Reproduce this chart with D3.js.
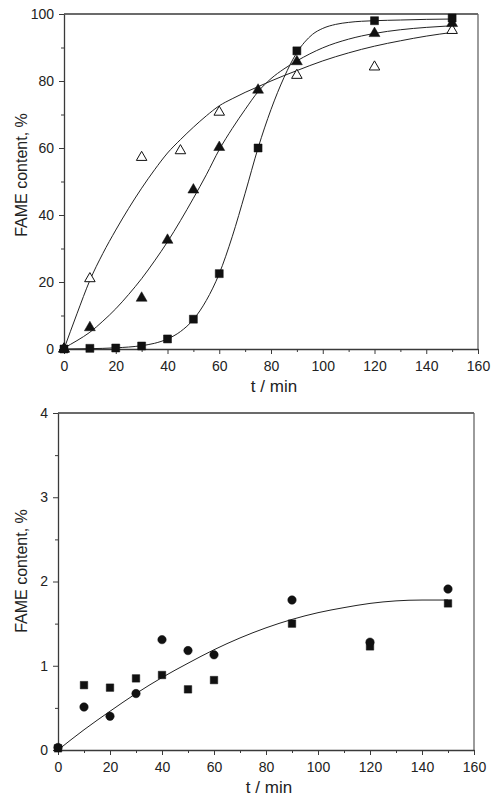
<!DOCTYPE html>
<html><head><meta charset="utf-8">
<script src="https://cdn.jsdelivr.net/npm/d3@7"></script>
<style>
body{margin:0;background:#fff}
text{font-family:"Liberation Sans",Arial,Helvetica,sans-serif;fill:#222}
</style>
</head><body>
<svg id="c" width="500" height="800"></svg>
<script>
// ---------- shared axis ticks ----------
const xMajorTicks = [0,20,40,60,80,100,120,140,160];
const xMinorTicks = [10,30,50,70,90,110,130,150];
const topYMajorTicks = [0,20,40,60,80,100];
const topYMinorTicks = [10,30,50,70,90];
const botYMajorTicks = [0,1,2,3,4];
const botYMinorTicks = [0.5,1.5,2.5,3.5];
const xLabel = "t / min";
const yLabel = "FAME content, %";

// ---------- top chart data ----------
const openTriT = [0,10,30,45,60,90,120,150];
const openTriY = [0,21,57.2,59.2,70.7,81.7,84.2,95.1];
const fillTriT = [0,10,30,40,50,60,75,90,120,150];
const fillTriY = [0,6.4,15.2,32.5,47.5,60.2,77.3,85.8,94.2,97.2];
const squareT  = [0,10,20,30,40,50,60,75,90,120,150];
const squareY  = [0,0.2,0.3,0.9,3.0,8.9,22.5,60,89,98,98.8];

// fitted curves
const openFitT = [0,5,10,15,20,25,30,35,40,45,50,55,60,65,70,75,80,85,90,95,100,110,120,130,140,150];
const openFit  = [0,10.5,20.5,28.5,35.5,42,48,53.5,58.5,62.5,66.2,69.6,72.6,74.7,76.6,78.3,80,81.6,83.1,84.6,86,88.4,90.4,92,93.4,94.5];
const fillFitT = [0,5,10,15,20,25,30,35,40,45,50,55,60,65,70,75,80,85,90,95,100,110,120,130,140,150];
const fillFit  = [0.3,2.5,5,8.3,12,16.3,21,26.3,32,38.3,45,52,59.5,65.8,71.5,76.8,80.7,83.6,86,88.1,89.9,92.5,94.2,95.3,96,96.5];
const sqFitT   = [0,10,20,30,35,40,45,50,55,60,65,70,75,80,85,90,93,96,100,105,110,120,130,140,150];
const sqFit    = [0,0.1,0.35,1.0,1.7,3.0,5.2,8.8,14.5,22.5,33.5,46.5,60,71.5,81,88.5,91.6,93.9,95.7,96.9,97.5,98,98.2,98.4,98.5];

// ---------- bottom chart data ----------
const circT = [0,10,20,30,40,50,60,90,120,150];
const circY = [0.03,0.51,0.40,0.67,1.31,1.18,1.13,1.78,1.28,1.91];
const sqT   = [0,10,20,30,40,50,60,90,120,150];
const sqY   = [0.02,0.77,0.74,0.85,0.89,0.72,0.83,1.50,1.23,1.74];
const botFitT = [0,10,20,30,40,50,60,70,80,90,100,110,120,130,140,150];
const botFit  = [0,0.24,0.46,0.67,0.86,1.03,1.19,1.33,1.45,1.55,1.63,1.69,1.74,1.77,1.78,1.78];

const svg = d3.select("#c");
const axisColor = "#3a3a3a";

function panel(cfg){
  const g = svg.append("g");
  const x = d3.scaleLinear().domain([0,160]).range([cfg.x0,cfg.x1]);
  const y = d3.scaleLinear().domain(cfg.yDomain).range([cfg.y0,cfg.y1]);

  g.append("line").attr("x1",cfg.x0).attr("x2",cfg.x1).attr("y1",cfg.y1).attr("y2",cfg.y1)
    .attr("stroke",axisColor).attr("stroke-width",1.3);
  g.append("line").attr("x1",cfg.x1).attr("x2",cfg.x1).attr("y1",cfg.y1).attr("y2",cfg.y0)
    .attr("stroke","#666").attr("stroke-width",1.3);

  g.append("g").attr("transform",`translate(0,${cfg.y0})`)
    .call(d3.axisBottom(x).tickValues(xMajorTicks).tickFormat(d3.format("d")).tickSize(5).tickPadding(7).tickSizeOuter(0));
  g.append("g").attr("transform",`translate(0,${cfg.y0})`)
    .call(d3.axisBottom(x).tickValues(xMinorTicks).tickSize(3).tickFormat("").tickSizeOuter(0))
    .select(".domain").remove();
  g.append("g").attr("transform",`translate(${cfg.x0},0)`)
    .call(d3.axisLeft(y).tickValues(cfg.yMajor).tickFormat(d3.format("d")).tickSize(5).tickPadding(5).tickSizeOuter(0));
  g.append("g").attr("transform",`translate(${cfg.x0},0)`)
    .call(d3.axisLeft(y).tickValues(cfg.yMinor).tickSize(3).tickFormat("").tickSizeOuter(0))
    .select(".domain").remove();
  g.selectAll(".domain").attr("stroke",axisColor).attr("stroke-width",1.3);
  g.selectAll(".tick line").attr("stroke",axisColor).attr("stroke-width",1);
  g.selectAll(".tick text").attr("font-size",14).attr("fill","#222")
    .style("font-family",'"Liberation Sans",Arial,sans-serif');

  g.append("text").attr("x",(cfg.x0+cfg.x1)/2+3).attr("y",cfg.y0+43)
    .attr("text-anchor","middle").attr("font-size",17).text(xLabel);
  g.append("text").attr("transform",`translate(27,${cfg.yLabelC}) rotate(-90)`)
    .attr("text-anchor","middle").attr("font-size",16).text(yLabel);

  const line = d3.line().x(d=>x(d[0])).y(d=>y(d[1])).curve(d3.curveMonotoneX);
  cfg.fits.forEach(f=>{
    g.append("path").attr("d",line(d3.zip(f.t,f.v))).attr("fill","none")
      .attr("stroke","#222").attr("stroke-width",1);
  });
  cfg.series.forEach(s=>{
    g.append("g").selectAll("path").data(d3.zip(s.t,s.v)).join("path")
      .attr("transform",d=>`translate(${x(d[0])},${y(d[1])})`)
      .attr("d",d3.symbol().type(s.type).size(s.size))
      .attr("fill",s.fill).attr("stroke","#111").attr("stroke-width",s.sw);
  });
}

panel({
  x0:64, x1:478, y0:349, y1:14, yDomain:[0,100],
  yMajor:topYMajorTicks, yMinor:topYMinorTicks, yLabelC:175,
  fits:[{t:openFitT,v:openFit},{t:fillFitT,v:fillFit},{t:sqFitT,v:sqFit}],
  series:[
    {t:openTriT,v:openTriY,type:d3.symbolTriangle,size:48,fill:"#fff",sw:1},
    {t:fillTriT,v:fillTriY,type:d3.symbolTriangle,size:52,fill:"#111",sw:0.5},
    {t:squareT,v:squareY,type:d3.symbolSquare,size:64,fill:"#111",sw:0.5}
  ]
});

panel({
  x0:58, x1:474, y0:750, y1:413, yDomain:[0,4],
  yMajor:botYMajorTicks, yMinor:botYMinorTicks, yLabelC:571,
  fits:[{t:botFitT,v:botFit}],
  series:[
    {t:sqT,v:sqY,type:d3.symbolSquare,size:56,fill:"#111",sw:0.5},
    {t:circT,v:circY,type:d3.symbolCircle,size:56,fill:"#111",sw:0.5}
  ]
});
</script>
</body></html>
